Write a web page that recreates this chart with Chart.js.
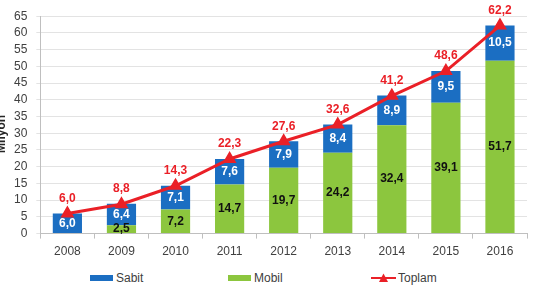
<!DOCTYPE html>
<html>
<head>
<meta charset="UTF-8">
<title>Abone sayısı</title>
<script src="https://cdn.jsdelivr.net/npm/chart.js"></script>
<style>
  body { margin: 0; background: #fff; overflow: hidden; font-family: "Liberation Sans", Arial, sans-serif; }
  #wrap { position: relative; width: 538px; height: 290px; }
  #box { position: absolute; left: 0; top: 0; width: 538px; height: 269px; }
  #legend { position: absolute; left: 0; top: 269px; width: 538px; height: 18px; font-size: 12px; color: #404040; }
  .item { position: absolute; top: 0; height: 18px; display: flex; align-items: center; }
  .sw { width: 23px; height: 6px; margin-right: 3px; }
</style>
</head>
<body>
<div id="wrap">
  <div id="box"><canvas id="chart"></canvas></div>
  <div id="legend">
    <div class="item" style="left:90px"><span class="sw" style="background:#1b6ec2"></span>Sabit</div>
    <div class="item" style="left:228px"><span class="sw" style="background:#8cc63e"></span>Mobil</div>
    <div class="item" style="left:371px">
      <svg width="25" height="10" style="margin-right:2px"><line x1="0" y1="5" x2="25" y2="5" stroke="#ea2027" stroke-width="2"/><polygon points="12.5,0.5 17,9 8,9" fill="#ea2027"/></svg>Toplam
    </div>
  </div>
</div>
<script>
const years = ['2008', '2009', '2010', '2011', '2012', '2013', '2014', '2015', '2016'];
const sabit = [6.0, 6.4, 7.1, 7.6, 7.9, 8.4, 8.9, 9.5, 10.5];
const mobil = [null, 2.5, 7.2, 14.7, 19.7, 24.2, 32.4, 39.1, 51.7];
const toplam = [6.0, 8.8, 14.3, 22.3, 27.6, 32.6, 41.2, 48.6, 62.2];

const BLUE = '#1b6ec2', GREEN = '#8cc63e', RED = '#ea2027';
const FONT = '"Liberation Sans", Arial, sans-serif';

// sayilari yaz (virgullu)
const valueLabels = {
  id: 'valueLabels',
  afterDatasetsDraw(chart) {
    const ctx = chart.ctx;
    ctx.save();
    ctx.font = 'bold 12px ' + FONT;
    ctx.textAlign = 'center';
    ctx.textBaseline = 'middle';
    chart.data.datasets.forEach((ds, i) => {
      const meta = chart.getDatasetMeta(i);
      meta.data.forEach((el, j) => {
        const v = ds.data[j];
        if (v == null) return;
        const txt = v.toFixed(1).replace('.', ',');
        if (ds.type === 'line') {
          ctx.fillStyle = RED;
          ctx.fillText(txt, el.x, el.y - 15);
        } else {
          ctx.fillStyle = ds.label === 'Sabit' ? '#fff' : '#111';
          ctx.fillText(txt, el.x, (el.y + el.base) / 2);
        }
      });
    });
    // eksen basligi, sol kenarda kesik
    const y = chart.scales.y;
    ctx.translate(5, (y.top + y.bottom) / 2 + 9);
    ctx.rotate(-Math.PI / 2);
    ctx.fillStyle = '#262626';
    ctx.textBaseline = 'alphabetic';
    ctx.fillText('Milyon', 0, 0);
    ctx.restore();
  }
};

new Chart(document.getElementById('chart'), {
  data: {
    labels: years,
    datasets: [
      { type: 'bar', label: 'Mobil', data: mobil, backgroundColor: GREEN, stack: 's', order: 1,
        barPercentage: 0.9, categoryPercentage: 0.6 },
      { type: 'bar', label: 'Sabit', data: sabit, backgroundColor: BLUE, stack: 's', order: 1,
        barPercentage: 0.9, categoryPercentage: 0.6 },
      { type: 'line', label: 'Toplam', data: toplam, borderColor: RED, borderWidth: 3, tension: 0,
        pointStyle: 'triangle', pointRadius: 5, pointBackgroundColor: RED, pointBorderColor: RED, order: 0 }
    ]
  },
  options: {
    responsive: true,
    maintainAspectRatio: false,
    animation: false,
    layout: { padding: { left: 5, right: 11, top: 12, bottom: 4 } },
    plugins: { legend: { display: false }, tooltip: { enabled: false } },
    scales: {
      x: {
        stacked: true,
        grid: { drawOnChartArea: false, tickLength: 5, color: '#bfbfbf' },
        border: { color: '#bfbfbf' },
        ticks: { color: '#404040', font: { size: 12, family: FONT }, padding: 6 }
      },
      y: {
        stacked: true,
        min: 0,
        max: 65,
        grid: { color: '#e3e3e3', tickLength: 4 },
        border: { color: '#bfbfbf' },
        ticks: { stepSize: 5, autoSkip: false, color: '#404040', font: { size: 12, family: FONT }, padding: 9 }
      }
    }
  },
  plugins: [valueLabels]
});
</script>
</body>
</html>
